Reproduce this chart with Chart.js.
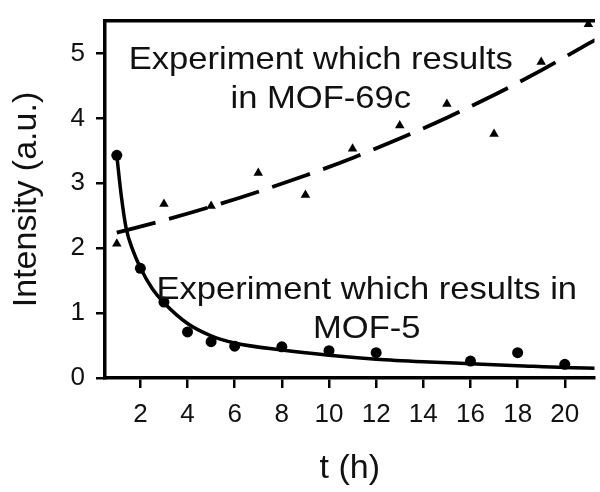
<!DOCTYPE html>
<html>
<head>
<meta charset="utf-8">
<script src="https://cdn.jsdelivr.net/npm/chart.js@4.4.1/dist/chart.umd.min.js"></script>
<style>
  html, body { margin: 0; padding: 0; background: #fff; overflow: hidden; }
  #wrap { width: 600px; height: 492px; }
</style>
</head>
<body>
<div id="wrap"><canvas id="chartIntensity"></canvas></div>
<script>
var mof5Time = [1, 2, 3, 4, 5, 6, 8, 10, 12, 16, 18, 20];
var mof5Intensity = [3.43, 1.69, 1.17, 0.71, 0.56, 0.49, 0.48, 0.42, 0.39, 0.26, 0.39, 0.21];

var mof69cTime = [1, 3, 5, 7, 9, 11, 13, 15, 17, 19, 21];
var mof69cIntensity = [2.07, 2.68, 2.65, 3.16, 2.82, 3.53, 3.89, 4.22, 3.76, 4.87, 5.45];

// fitted curves
var mof5FitTime = [1, 1.2, 1.4, 1.7, 2, 2.5, 3, 4, 5, 6, 8, 10, 12, 14, 16, 18, 20, 21.3];
var mof5FitIntensity = [3.43, 2.78, 2.30, 1.95, 1.70, 1.38, 1.16, 0.84, 0.65, 0.54, 0.43, 0.35, 0.29, 0.25, 0.22, 0.19, 0.16, 0.15];

var mof69cFitTime = [1, 3, 5, 7, 9, 11, 13, 15, 17, 19, 21, 21.3];
var mof69cFitIntensity = [2.24, 2.43, 2.64, 2.87, 3.12, 3.39, 3.69, 4.01, 4.36, 4.74, 5.15, 5.21];

// tick labels
var xTickValues = [2, 4, 6, 8, 10, 12, 14, 16, 18, 20];
var yTickValues = [0, 1, 2, 3, 4, 5];

function toPoints(xs, ys) {
  return xs.map(function (x, i) { return { x: x, y: ys[i] }; });
}

Chart.defaults.font.family = '"Liberation Sans", Arial, Helvetica, sans-serif';
Chart.defaults.color = '#111';

// text labels written inside the plot, anchored in data units
var notesPlugin = {
  id: 'notes',
  afterDatasetsDraw: function (chart, args, opts) {
    var c = chart.ctx;
    var xs = chart.scales.x, ys = chart.scales.y;
    opts.items.forEach(function (n) {
      var px = xs.getPixelForValue(n.t);
      var py = ys.getPixelForValue(n.v);
      c.save();
      c.fillStyle = '#111';
      c.font = opts.font;
      c.textAlign = 'center';
      c.textBaseline = 'alphabetic';
      c.translate(px, py);
      c.scale(opts.stretch, 1); // original lettering is a little wide
      n.lines.forEach(function (line, i) {
        c.fillText(line, 0, i * opts.lineHeight);
      });
      c.restore();
    });
  }
};

var ctx = document.getElementById('chartIntensity').getContext('2d');

var myChart = new Chart(ctx, {
  type: 'scatter',
  data: {
    datasets: [
      {
        label: 'MOF-69c fit',
        data: toPoints(mof69cFitTime, mof69cFitIntensity),
        showLine: true,
        borderColor: '#000',
        borderWidth: 3.8,
        borderDash: [40, 14],
        cubicInterpolationMode: 'monotone',
        pointRadius: 0,
        fill: false,
      },
      {
        label: 'MOF-5 fit',
        data: toPoints(mof5FitTime, mof5FitIntensity),
        showLine: true,
        borderColor: '#000',
        borderWidth: 3.5,
        cubicInterpolationMode: 'monotone',
        pointRadius: 0,
        fill: false,
      },
      {
        label: 'MOF-69c',
        data: toPoints(mof69cTime, mof69cIntensity),
        pointStyle: 'triangle',
        pointRadius: 5.5,
        backgroundColor: '#000',
        borderColor: '#000',
        borderWidth: 0,
        clip: false,
      },
      {
        label: 'MOF-5',
        data: toPoints(mof5Time, mof5Intensity),
        pointStyle: 'circle',
        pointRadius: 5.5,
        backgroundColor: '#000',
        borderColor: '#000',
        borderWidth: 0,
        clip: false,
      },
    ],
  },
  options: {
    responsive: true,
    maintainAspectRatio: false,
    animation: false,
    layout: { padding: { top: 21, right: 0, bottom: 0, left: 0 } },
    plugins: {
      legend: { display: false },
      tooltip: { enabled: false },
      notes: {
        font: '32px "Liberation Sans", Arial, sans-serif',
        stretch: 1.08,
        lineHeight: 39,
        items: [
          { lines: ['Experiment which results', 'in MOF-69c'], t: 9.65, v: 4.76 },
          { lines: ['Experiment which results in', 'MOF-5'], t: 11.6, v: 1.21 },
        ],
      },
    },
    scales: {
      x: {
        type: 'linear',
        position: 'bottom',
        min: 0.5,
        max: 21.26,
        afterBuildTicks: function (scale) {
          scale.ticks = xTickValues.map(function (v) { return { value: v }; });
        },
        afterFit: function (scale) {
          scale.height = 114;
          scale.paddingLeft = 0;
          scale.paddingRight = 0;
        },
        ticks: { font: { size: 26 }, color: '#111', padding: 11, maxRotation: 0, autoSkip: false },
        grid: { drawOnChartArea: false, drawTicks: true, tickLength: 10, lineWidth: 2.5, color: '#000' },
        border: { display: true, width: 3.5, color: '#000' },
        title: { display: true, text: 't (h)', font: { size: 34 }, color: '#111', padding: { top: 0, bottom: 3 } },
      },
      xTop: {
        type: 'linear',
        position: 'top',
        min: 0.5,
        max: 21.26,
        afterFit: function (scale) {
          scale.height = 0;
          scale.paddingLeft = 0;
          scale.paddingRight = 0;
        },
        ticks: { display: false },
        grid: { drawOnChartArea: false, drawTicks: false },
        border: { display: true, width: 3.5, color: '#000' },
      },
      y: {
        type: 'linear',
        position: 'left',
        min: 0,
        max: 5.5,
        afterBuildTicks: function (scale) {
          scale.ticks = yTickValues.map(function (v) { return { value: v }; });
        },
        afterFit: function (scale) {
          scale.width = 105;
          // top tick is 5, not the axis max, so no room is needed for a label there
          scale.paddingTop = 0;
          scale.paddingBottom = 0;
        },
        ticks: { font: { size: 26 }, color: '#111', padding: 11 },
        grid: { drawOnChartArea: false, drawTicks: true, tickLength: 9, lineWidth: 2.5, color: '#000' },
        border: { display: true, width: 3.5, color: '#000' },
        title: { display: true, text: 'Intensity (a.u.)', font: { size: 34 }, color: '#111', padding: { top: 6, bottom: 0 } },
      },
    },
  },
  plugins: [notesPlugin],
});
</script>
</body>
</html>
